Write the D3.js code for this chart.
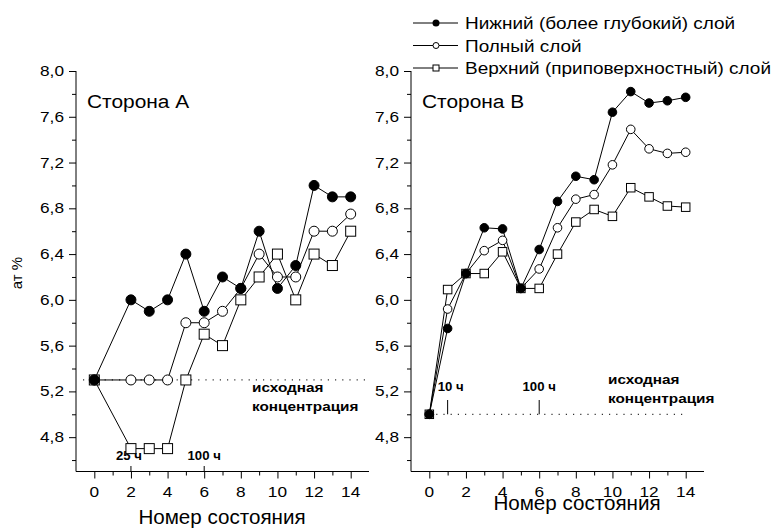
<!DOCTYPE html>
<html>
<head>
<meta charset="utf-8">
<script src="https://cdn.jsdelivr.net/npm/d3@7"></script>
<style>
  html, body { margin: 0; padding: 0; background: #fff; }
  svg { display: block; font-family: "Liberation Sans", Arial, sans-serif; }
</style>
</head>
<body>
<svg id="chart" width="782" height="528"></svg>
<script>
// Состояния (номер состояния) для каждой стороны
const statesA = [0, 2, 3, 4, 5, 6, 7, 8, 9, 10, 11, 12, 13, 14];
const statesB = [0, 1, 2, 3, 4, 5, 6, 7, 8, 9, 10, 11, 12, 13, 14];

// Сторона A, ат %
const lowerA = [5.3, 6.0, 5.9, 6.0, 6.4, 5.9, 6.2, 6.1, 6.6, 6.1, 6.3, 7.0, 6.9, 6.9];
const fullA  = [5.3, 5.3, 5.3, 5.3, 5.8, 5.8, 5.9, 6.1, 6.4, 6.2, 6.2, 6.6, 6.6, 6.75];
const upperA = [5.3, 4.7, 4.7, 4.7, 5.3, 5.7, 5.6, 6.0, 6.2, 6.4, 6.0, 6.4, 6.3, 6.6];

// Сторона B, ат %
const lowerB = [5.0, 5.75, 6.23, 6.63, 6.62, 6.1, 6.44, 6.86, 7.08, 7.05, 7.64, 7.82, 7.72, 7.74, 7.77];
const fullB  = [5.0, 5.92, 6.23, 6.43, 6.52, 6.1, 6.27, 6.63, 6.88, 6.92, 7.18, 7.49, 7.32, 7.28, 7.29];
const upperB = [5.0, 6.09, 6.23, 6.23, 6.42, 6.1, 6.1, 6.4, 6.68, 6.79, 6.73, 6.98, 6.90, 6.82, 6.81];

// Исходная концентрация и отметки времени
const baseA = 5.3;
const baseB = 5.0;
const marksA = [{ x: 2, label: "25 ч" }, { x: 6, label: "100 ч" }];
const marksB = [{ x: 1, label: "10 ч" }, { x: 6, label: "100 ч" }];

const seriesNames = ["Нижний (более глубокий) слой", "Полный слой", "Верхний (приповерхностный) слой"];
const yMajorTicks = [4.8, 5.2, 5.6, 6.0, 6.4, 6.8, 7.2, 7.6, 8.0];
const yMinorTicks = [4.6, 5.0, 5.4, 5.8, 6.2, 6.6, 7.0, 7.4, 7.8];
const xMajorTicks = [0, 2, 4, 6, 8, 10, 12, 14];
const xMinorTicks = [1, 3, 5, 7, 9, 11, 13];

const svg = d3.select("#chart");
const SX = 1.15; // горизонтальное растяжение шрифта

function label(g, x, y, str, size, opts = {}) {
  const sx = opts.sx ?? SX;
  return g.append("text")
    .attr("transform", `translate(${x},${y}) scale(${sx},1)` + (opts.rotate ? ` rotate(${opts.rotate})` : ""))
    .attr("text-anchor", opts.anchor || "start")
    .attr("font-size", size)
    .attr("font-weight", opts.bold ? "bold" : null)
    .attr("fill", "#000")
    .text(str);
}

const y = d3.scaleLinear().domain([4.5, 8.0]).range([471.5, 71]);
const fmt = v => d3.format(".1f")(v).replace(".", ",");

function panel(opts) {
  const g = svg.append("g");
  const x = d3.scaleLinear().domain([-1, 15]).range([opts.left, opts.left + 293]);
  const x0 = opts.left, yb = y(4.5);

  // Ось Y
  const yAxis = d3.axisLeft(y).tickValues(yMajorTicks).tickSize(7).tickPadding(5).tickFormat(fmt);
  const ga = g.append("g").attr("transform", `translate(${x0},0)`).call(yAxis);
  ga.select(".domain").attr("d", `M0,${y(8.0)}V${yb}`);
  ga.selectAll(".tick text").remove();
  g.append("g").attr("transform", `translate(${x0},0)`)
    .call(d3.axisLeft(y).tickValues(yMinorTicks).tickSize(4).tickFormat(""))
    .select(".domain").remove();
  yMajorTicks.forEach(v => label(g, x0 - 12, y(v) + 5, fmt(v), 15, { anchor: "end" }));

  // Ось X
  const gx = g.append("g").attr("transform", `translate(0,${yb})`)
    .call(d3.axisBottom(x).tickValues(xMajorTicks).tickSize(7).tickFormat(""));
  gx.select(".domain").attr("d", `M${x0},0H${x(15)}`);
  g.append("g").attr("transform", `translate(0,${yb})`)
    .call(d3.axisBottom(x).tickValues(xMinorTicks).tickSize(4).tickFormat(""))
    .select(".domain").remove();
  xMajorTicks.forEach(v => label(g, x(v), yb + 25, String(v), 15, { anchor: "middle" }));
  g.selectAll(".tick line").attr("stroke", "#000");
  g.selectAll(".domain").attr("stroke", "#000");

  // Линия исходной концентрации
  g.append("line")
    .attr("x1", opts.baseFrom).attr("x2", opts.baseTo)
    .attr("y1", y(opts.base)).attr("y2", y(opts.base))
    .attr("stroke", "#333").attr("stroke-width", 1.2)
    .attr("stroke-dasharray", "1.2,6");

  // Отметки времени
  opts.marks.forEach(m => {
    g.append("line").attr("x1", x(m.x)).attr("x2", x(m.x))
      .attr("y1", opts.markY0).attr("y2", opts.markY1)
      .attr("stroke", "#000").attr("stroke-width", 1);
    label(g, x(m.x) + (m.dx || 0), opts.markLabelY, m.label, 12, { anchor: "middle", bold: true, sx: 1.1 });
  });

  // Серии: линии
  const line = d3.line().x((d, i) => x(opts.states[i])).y(d => y(d));
  [opts.upper, opts.full, opts.lower].forEach(s => {
    g.append("path").datum(s).attr("d", line)
      .attr("fill", "none").attr("stroke", "#000").attr("stroke-width", 1);
  });
  const r = opts.r, h = opts.sq;
  // Верхний — квадраты
  g.selectAll(null).data(opts.upper).join("rect")
    .attr("x", (d, i) => x(opts.states[i]) - h / 2).attr("y", d => y(d) - h / 2)
    .attr("width", h).attr("height", h)
    .attr("fill", "#fff").attr("stroke", "#000").attr("stroke-width", 1);
  // Полный — пустые круги
  g.selectAll(null).data(opts.full).join("circle")
    .attr("cx", (d, i) => x(opts.states[i])).attr("cy", d => y(d)).attr("r", r)
    .attr("fill", "#fff").attr("stroke", "#000").attr("stroke-width", 1);
  // Нижний — закрашенные круги
  g.selectAll(null).data(opts.lower).join("circle")
    .attr("cx", (d, i) => x(opts.states[i])).attr("cy", d => y(d)).attr("r", r)
    .attr("fill", "#000").attr("stroke", "#000").attr("stroke-width", 1);

  // Подписи
  label(g, opts.left + 11, 108, opts.title, 19, { sx: 1.1 });
  label(g, opts.noteX, opts.noteY, "исходная", 13, { bold: true, sx: 1.18 });
  label(g, opts.noteX, opts.noteY + 19, "концентрация", 13, { bold: true, sx: 1.18 });
  label(g, opts.axisTitleX, opts.axisTitleY, "Номер состояния", 20, { anchor: "middle", sx: 1.03 });
  return { g, x };
}

const A = panel({
  left: 76, states: statesA, lower: lowerA, full: fullA, upper: upperA,
  base: baseA, baseFrom: 83, baseTo: 368, marks: marksA.map(m => ({ ...m, dx: m.x === 2 ? -2 : 0 })),
  markY0: 471.5, markY1: 466, markLabelY: 460,
  r: 5, sq: 10, title: "Сторона A",
  noteX: 252, noteY: 392, axisTitleX: 222, axisTitleY: 524
});
A.g.selectAll("text").filter(function () { return this.textContent === "25 ч" || this.textContent === "100 ч"; });

const B = panel({
  left: 411, states: statesB, lower: lowerB, full: fullB, upper: upperB,
  base: baseB, baseFrom: 429, baseTo: 684, marks: marksB.map(m => ({ ...m, dx: m.x === 1 ? 3 : 0 })),
  markY0: y(baseB), markY1: 400, markLabelY: 391,
  r: 4.3, sq: 8.5, title: "Сторона B",
  noteX: 608, noteY: 384, axisTitleX: 577, axisTitleY: 510
});

// Подпись оси Y
label(svg, 22, 273, "ат %", 15, { anchor: "middle", sx: 1, rotate: -90 });

// Легенда
const legend = svg.append("g");
const rowsY = [23, 45.5, 68];
seriesNames.forEach((name, i) => {
  const ly = rowsY[i];
  legend.append("line").attr("x1", 413).attr("x2", 458).attr("y1", ly).attr("y2", ly)
    .attr("stroke", "#000").attr("stroke-width", 1);
  if (i === 0) legend.append("circle").attr("cx", 436).attr("cy", ly).attr("r", 3.5).attr("fill", "#000");
  if (i === 1) legend.append("circle").attr("cx", 436).attr("cy", ly).attr("r", 3)
    .attr("fill", "#fff").attr("stroke", "#000");
  if (i === 2) legend.append("rect").attr("x", 433).attr("y", ly - 3).attr("width", 6).attr("height", 6)
    .attr("fill", "#fff").attr("stroke", "#000");
  label(legend, 465, ly + 6, name, 16.5);
});
</script>
</body>
</html>
